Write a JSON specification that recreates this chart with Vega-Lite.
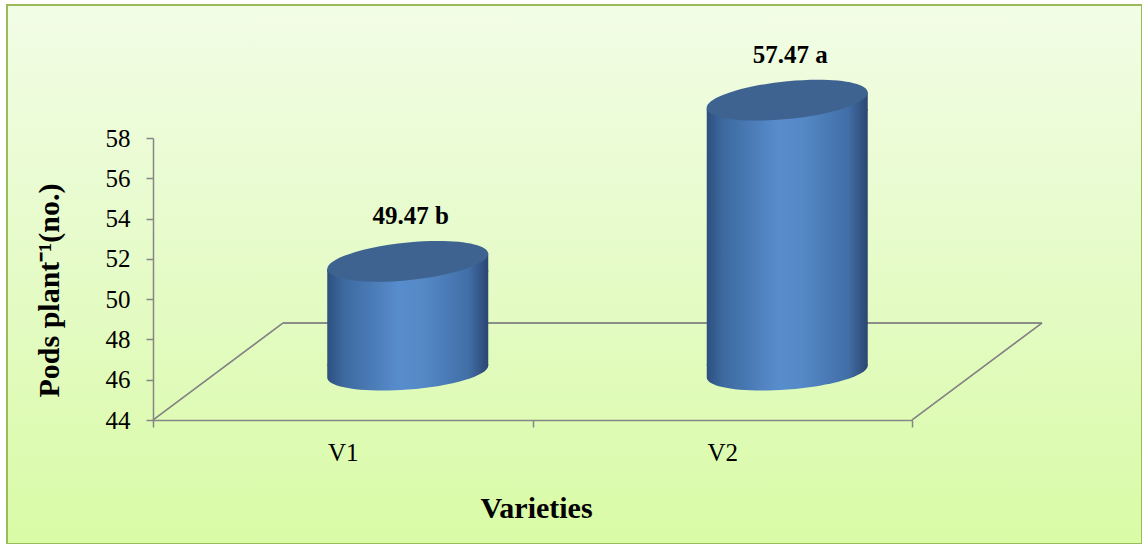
{
  "$schema": "https://vega.github.io/schema/vega-lite/v6.json",
  "width": 1135,
  "height": 539,
  "autosize": "none",
  "padding": {"left": 7, "top": 5, "right": 0, "bottom": 0},
  "background": "#ffffff",
  "config": {
    "font": "Liberation Serif",
    "view": {
      "fill": {
        "gradient": "linear", "x1": 0, "y1": 0, "x2": 0, "y2": 1,
        "stops": [
          {"offset": 0, "color": "#f2fde6"},
          {"offset": 0.5, "color": "#e5fbc7"},
          {"offset": 1, "color": "#d9fba6"}
        ]
      },
      "stroke": "#9bbb59",
      "strokeWidth": 2
    },
    "axis": {
      "grid": false,
      "domainColor": "#868686",
      "domainWidth": 1.5,
      "tickColor": "#868686",
      "tickWidth": 1.5,
      "tickSize": 7,
      "labelFont": "Liberation Serif",
      "labelFontSize": 25,
      "labelColor": "#000000",
      "titleFont": "Liberation Serif",
      "titleFontSize": 30,
      "titleFontWeight": "bold",
      "titleColor": "#000000"
    }
  },
  "data": {
    "values": [
      {"variety": "V1", "pods": 49.47, "label": "49.47 b"},
      {"variety": "V2", "pods": 57.47, "label": "57.47 a"}
    ]
  },
  "encoding": {
    "x": {
      "field": "variety",
      "type": "nominal",
      "scale": {"domain": ["V1", "V2"], "range": [146, 905], "paddingInner": 0, "paddingOuter": 0},
      "axis": {
        "title": "Varieties",
        "offset": -124,
        "labelAngle": 0,
        "tickBand": "extent",
        "labelBaseline": "alphabetic",
        "labelPadding": 33,
        "titleX": 529,
        "titleY": 97,
        "titleAlign": "center",
        "titleBaseline": "alphabetic"
      }
    },
    "y": {
      "field": "pods",
      "type": "quantitative",
      "scale": {"domain": [44, 58], "range": [415, 133], "nice": false, "zero": false},
      "axis": {
        "title": "Pods plant⁻¹(no.)",
        "offset": -146,
        "values": [44, 46, 48, 50, 52, 54, 56, 58],
        "labelPadding": 16,
        "titleX": -95,
        "titleY": 285,
        "titleAngle": -90,
        "titleAlign": "center",
        "titleBaseline": "alphabetic"
      }
    }
  },
  "layer": [
    {
      "mark": {"type": "rule", "color": "#868686", "strokeWidth": 1.5, "xOffset": 130, "x2Offset": 130, "yOffset": -97},
      "encoding": {
        "x": {"datum": "V1", "type": "nominal", "bandPosition": 0},
        "x2": {"datum": "V2", "bandPosition": 1},
        "y": {"datum": 44, "type": "quantitative"}
      }
    },
    {
      "mark": {"type": "rule", "color": "#868686", "strokeWidth": 1.5, "x2Offset": 130, "y2Offset": -97},
      "encoding": {
        "x": {"datum": "V1", "type": "nominal", "bandPosition": 0},
        "x2": {"datum": "V1", "bandPosition": 0},
        "y": {"datum": 44, "type": "quantitative"},
        "y2": {"datum": 44}
      }
    },
    {
      "mark": {"type": "rule", "color": "#868686", "strokeWidth": 1.5, "x2Offset": 130, "y2Offset": -97},
      "encoding": {
        "x": {"datum": "V2", "type": "nominal", "bandPosition": 1},
        "x2": {"datum": "V2", "bandPosition": 1},
        "y": {"datum": 44, "type": "quantitative"},
        "y2": {"datum": 44}
      }
    },
    {
      "mark": {
        "type": "point",
        "filled": true,
        "opacity": 1,
        "size": 25921,
        "shape": "M -1 -0.09 L 1 -0.09 L 1 -0.075 C 1 0.049 0.552 0.184 0 0.225 C -0.552 0.266 -1 0.199 -1 0.075 Z",
        "xOffset": 65,
        "yOffset": -48.5,
        "fill": {
          "gradient": "linear", "x1": 0, "y1": 0, "x2": 1, "y2": 0,
          "stops": [
            {"offset": 0, "color": "#2d4f7f"},
            {"offset": 0.1, "color": "#3d699f"},
            {"offset": 0.45, "color": "#588dcd"},
            {"offset": 0.6, "color": "#5488c6"},
            {"offset": 0.88, "color": "#416ea6"},
            {"offset": 1, "color": "#2b4671"}
          ]
        }
      },
      "encoding": {
        "y": {"datum": 44, "type": "quantitative"}
      }
    },
    {
      "mark": {
        "type": "bar",
        "width": 161,
        "xOffset": 65,
        "yOffset": -39.5,
        "y2Offset": -54.5,
        "fill": {
          "gradient": "linear", "x1": 0, "y1": 0, "x2": 1, "y2": 0,
          "stops": [
            {"offset": 0, "color": "#2d4f7f"},
            {"offset": 0.1, "color": "#3d699f"},
            {"offset": 0.45, "color": "#588dcd"},
            {"offset": 0.6, "color": "#5488c6"},
            {"offset": 0.88, "color": "#416ea6"},
            {"offset": 1, "color": "#2b4671"}
          ]
        }
      },
      "encoding": {
        "y2": {"datum": 44}
      }
    },
    {
      "mark": {
        "type": "point",
        "filled": true,
        "opacity": 1,
        "size": 25921,
        "shape": "M -1 0.096 L 1 -0.096 L 1 0.13 L -1 0.13 Z",
        "xOffset": 65,
        "yOffset": -48.5,
        "fill": {
          "gradient": "linear", "x1": 0, "y1": 0, "x2": 1, "y2": 0,
          "stops": [
            {"offset": 0, "color": "#2d4f7f"},
            {"offset": 0.1, "color": "#3d699f"},
            {"offset": 0.45, "color": "#588dcd"},
            {"offset": 0.6, "color": "#5488c6"},
            {"offset": 0.88, "color": "#416ea6"},
            {"offset": 1, "color": "#2b4671"}
          ]
        }
      }
    },
    {
      "mark": {
        "type": "point",
        "filled": true,
        "opacity": 1,
        "size": 25921,
        "shape": "M 1 -0.096 C 1 0.034 0.552 0.182 0 0.235 C -0.552 0.288 -1 0.226 -1 0.096 C -1 -0.034 -0.552 -0.182 0 -0.235 C 0.552 -0.288 1 -0.226 1 -0.096 Z",
        "xOffset": 65,
        "yOffset": -48.5,
        "fill": "#3e6391"
      }
    },
    {
      "mark": {
        "type": "text",
        "font": "Liberation Serif",
        "fontSize": 25,
        "fontWeight": "bold",
        "color": "#000000",
        "baseline": "alphabetic",
        "align": "center",
        "xOffset": 68,
        "yOffset": -48.5,
        "dy": -37
      },
      "encoding": {
        "text": {"field": "label", "type": "nominal"}
      }
    }
  ]
}
